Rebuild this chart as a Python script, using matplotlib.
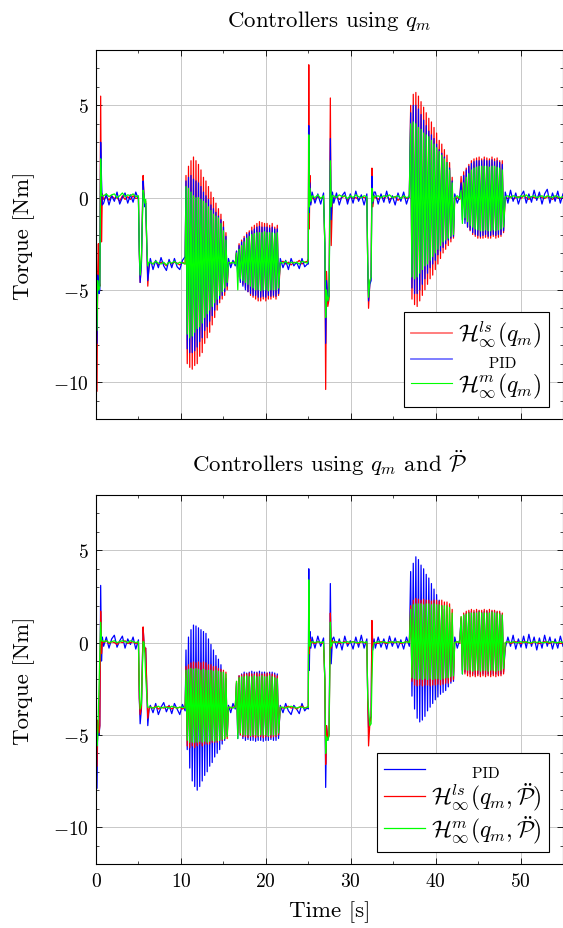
import numpy as np
import matplotlib
matplotlib.use("Agg")
import matplotlib.pyplot as plt
from matplotlib.lines import Line2D
from matplotlib.ticker import MultipleLocator

plt.rcParams['font.family'] = 'serif'
plt.rcParams['font.serif'] = ['cmr10', 'DejaVu Serif']
plt.rcParams['mathtext.fontset'] = 'cm'
plt.rcParams['axes.formatter.use_mathtext'] = True
plt.rcParams['font.size'] = 14

# sample times shared by all recordings: picked by hand around the jumps,
# spread evenly over the quiet and the oscillating stretches
time_parts = [
    [0.0, 0.12, 0.2, 0.28, 0.36, 0.45, 0.55, 0.65, 0.75],
    (0.9, 5.0, 14),
    [5.1, 5.2, 5.35, 5.55, 5.65, 5.75, 5.85, 6.0, 6.1, 6.25],
    (6.4, 10.5, 14),
    (10.6, 15.45, 34),
    (15.6, 16.4, 4),
    (16.55, 21.5, 34),
    (21.7, 24.9, 11),
    [25.0, 25.06, 25.12, 25.2, 25.3],
    (25.45, 26.8, 5),
    [26.95, 27.05, 27.15, 27.3, 27.45, 27.6, 27.7, 27.85],
    (28.0, 31.9, 13),
    [32.0, 32.1, 32.25, 32.4, 32.5, 32.6, 32.75],
    (32.9, 36.9, 13),
    (37.06, 42.1, 34),
    (42.25, 42.85, 3),
    (43.0, 48.0, 34),
    (48.2, 55.0, 23),
]

# ---- controllers using q_m (torque in Nm, one sub list per time part) ----
ls_top = [
    [-3.0, -10.5, -4.0, -2.5, -4.5, -4.8, 5.5, -2.4, 0.2],
    [-0.1, 0.05, -0.15, 0.1, -0.05, 0.0, -0.2, 0.1, -0.1, 0.05, -0.1, 0.1, -0.05, 0.0],
    [-2.9, -4.6, -3.5, 1.2, 0.2, -0.3, -0.2, -3.0, -4.8, -3.6],
    [-3.5, -3.6, -3.45, -3.65, -3.5, -3.55, -3.7, -3.45, -3.6, -3.5, -3.55, -3.65, -3.5, -3.6],
    [1.2, -9.0, 1.7, -9.2, 2.0, -9.3, 2.2, -9.1, 2.0, -9.0, 1.8, -8.6, 1.5, -8.4,
     1.1, -7.9, 0.9, -7.6, 0.6, -7.3, 0.3, -6.9, 0.0, -6.5, -0.3, -6.1, -0.6, -5.7,
     -0.9, -5.5, -1.3, -5.3, -1.9, -5.0],
    [-3.5, -3.6, -3.45, -3.55],
    [-2.9, -4.1, -2.5, -4.5, -2.3, -4.7, -2.1, -4.9, -1.9, -5.1, -1.8, -5.3, -1.6, -5.4,
     -1.5, -5.5, -1.4, -5.6, -1.3, -5.6, -1.35, -5.5, -1.4, -5.6, -1.4, -5.5, -1.5, -5.5,
     -1.4, -5.4, -1.6, -5.5, -1.5, -5.3],
    [-3.55, -3.45, -3.6, -3.5, -3.65, -3.5, -3.55, -3.4, -3.6, -3.5, -3.45],
    [-3.3, 7.2, -1.7, 1.2, -0.3],
    [0.0, -0.1, 0.05, -0.05, 0.0],
    [-2.5, -10.4, -4.0, -5.9, -5.5, 5.4, -2.6, 0.0],
    [-0.05, 0.05, -0.1, 0.0, 0.1, -0.15, 0.05, -0.05, 0.0, -0.1, 0.05, 0.0, -0.05],
    [-3.5, -6.0, -4.6, -4.3, 1.6, -0.5, 0.1],
    [0.0, -0.1, 0.05, -0.05, 0.1, -0.1, 0.0, 0.05, -0.15, 0.0, 0.05, -0.05, 0.0],
    [5.0, -5.5, 5.6, -5.8, 5.7, -5.9, 5.5, -5.6, 5.2, -5.3, 4.9, -5.0, 4.6, -4.7,
     4.3, -4.4, 4.1, -4.2, 3.8, -3.9, 3.5, -3.6, 3.1, -3.3, 2.9, -3.0, 2.6, -2.8,
     2.3, -2.6, 1.9, -2.4, 1.1, -2.2],
    [-0.1, 0.0, -0.1],
    [1.15, -0.65, 1.4, -1.2, 1.6, -1.6, 1.8, -1.8, 2.0, -2.0, 2.1, -2.1, 2.15, -2.2,
     2.2, -2.2, 2.1, -2.2, 2.2, -2.15, 2.15, -2.2, 2.1, -2.2, 2.2, -2.1, 2.1, -2.2,
     2.15, -2.15, 2.0, -2.1, 2.0, -1.9],
    [0.0, -0.05, 0.05, -0.1, 0.0, 0.05, -0.05, 0.1, 0.0, -0.1, 0.05, 0.0, -0.05, 0.1,
     0.0, -0.05, 0.05, 0.0, -0.1, 0.05, 0.0, -0.05, 0.0],
]

pid_top = [
    [-3.0, -7.9, -4.2, -4.5, -5.2, -5.0, 3.0, 1.0, -0.4],
    [-0.3, 0.2, -0.4, 0.1, -0.2, 0.3, -0.35, 0.0, 0.25, -0.3, 0.15, -0.25, 0.3, -0.1],
    [-3.0, -4.6, -3.6, 0.9, 0.1, -0.5, -0.3, -2.9, -4.5, -3.8],
    [-3.3, -3.9, -3.4, -3.8, -3.25, -3.7, -3.95, -3.35, -3.8, -3.3, -3.75, -3.9, -3.4, -3.2],
    [0.9, -8.2, 1.1, -8.4, 1.2, -8.4, 1.0, -8.3, 0.9, -8.1, 0.8, -7.8, 0.6, -7.6,
     0.3, -7.2, 0.1, -7.0, -0.1, -6.7, -0.4, -6.4, -0.6, -6.1, -0.8, -5.8, -1.0, -5.5,
     -1.2, -5.3, -1.6, -5.1, -2.1, -4.8],
    [-3.3, -3.8, -3.4, -3.7],
    [-2.9, -4.3, -2.6, -4.6, -2.4, -4.8, -2.2, -5.0, -2.0, -5.1, -1.9, -5.2, -1.8, -5.3,
     -1.7, -5.3, -1.6, -5.4, -1.55, -5.4, -1.6, -5.35, -1.6, -5.4, -1.6, -5.3, -1.65, -5.35,
     -1.6, -5.3, -1.7, -5.35, -1.7, -5.2],
    [-3.3, -3.8, -3.4, -3.9, -3.3, -3.7, -3.5, -3.85, -3.3, -3.75, -3.6],
    [-3.6, 3.9, -0.8, 0.8, -0.4],
    [0.3, -0.3, 0.2, -0.35, 0.25],
    [-2.5, -7.9, -4.5, -5.6, -5.3, 3.2, -1.2, 0.3],
    [-0.3, 0.25, -0.4, 0.1, 0.3, -0.35, 0.2, -0.3, 0.35, -0.2, 0.15, -0.4, 0.2],
    [-3.5, -5.6, -4.7, -4.5, 1.15, -0.3, 0.3],
    [0.3, -0.35, 0.2, -0.25, 0.35, -0.3, 0.1, -0.4, 0.25, -0.2, 0.3, -0.35, 0.15],
    [4.6, -4.9, 5.0, -5.2, 5.0, -5.2, 4.8, -5.0, 4.5, -4.7, 4.2, -4.4, 3.9, -4.1,
     3.6, -3.8, 3.4, -3.6, 3.2, -3.4, 2.9, -3.1, 2.6, -2.9, 2.4, -2.7, 2.2, -2.5,
     1.9, -2.3, 1.6, -2.2, 0.9, -2.1],
    [0.2, -0.3, 0.1],
    [0.8, -1.2, 1.2, -1.4, 1.5, -1.6, 1.7, -1.75, 1.85, -1.9, 1.95, -2.0, 2.0, -2.05,
     2.0, -2.1, 2.0, -2.05, 2.05, -2.0, 2.0, -2.1, 2.0, -2.05, 2.05, -2.0, 1.95, -2.05,
     2.0, -2.0, 1.9, -2.0, 1.8, -1.8],
    [0.3, -0.3, 0.4, -0.2, 0.25, -0.35, 0.1, 0.35, -0.3, 0.2, -0.25, 0.4, -0.15, 0.3,
     -0.35, 0.2, 0.45, -0.3, 0.25, -0.2, 0.35, -0.3, 0.2],
]

m_top = [
    [-3.0, -7.2, -4.5, -5.0, -5.0, -4.8, 2.1, 0.1, 0.1],
    [0.1, 0.2, 0.05, 0.15, 0.2, 0.0, 0.1, 0.25, 0.05, 0.15, 0.1, 0.2, 0.05, 0.1],
    [-2.9, -4.2, -3.3, 0.4, 0.1, -0.3, -0.1, -2.8, -3.7, -3.5],
    [-3.5, -3.6, -3.45, -3.55, -3.6, -3.5, -3.65, -3.5, -3.55, -3.45, -3.6, -3.5, -3.55, -3.6],
    [0.6, -7.4, 0.5, -7.6, 0.3, -7.5, 0.1, -7.3, 0.0, -7.1, 0.0, -7.0, -0.1, -6.8,
     -0.2, -6.5, -0.3, -6.3, -0.5, -6.1, -0.7, -5.9, -0.9, -5.7, -1.0, -5.5, -1.1, -5.3,
     -1.4, -5.1, -1.8, -4.9, -2.3, -4.6],
    [-3.5, -3.55, -3.5, -3.6],
    [-3.0, -5.0, -2.8, -4.4, -2.6, -4.5, -2.4, -4.6, -2.2, -4.7, -2.1, -4.8, -2.0, -4.9,
     -1.95, -5.0, -1.9, -5.0, -1.9, -5.05, -1.9, -5.0, -1.85, -5.0, -1.9, -5.05, -1.9, -5.0,
     -1.9, -5.0, -1.95, -5.0, -1.9, -4.9],
    [-3.5, -3.55, -3.45, -3.6, -3.5, -3.55, -3.5, -3.6, -3.45, -3.5, -3.55],
    [-3.4, 3.4, -0.5, 0.5, -0.2],
    [0.1, 0.0, 0.15, -0.05, 0.1],
    [-2.5, -6.5, -5.0, -5.6, -5.3, 2.0, -0.5, 0.1],
    [0.1, 0.0, 0.15, 0.05, 0.1, -0.05, 0.1, 0.0, 0.15, 0.05, 0.0, 0.1, 0.05],
    [-3.5, -5.4, -4.5, -4.3, 0.5, -0.2, 0.1],
    [0.05, 0.1, 0.0, 0.1, 0.05, 0.15, 0.0, 0.05, 0.1, -0.05, 0.1, 0.0, 0.05],
    [4.0, -4.3, 4.1, -4.4, 4.0, -4.3, 3.8, -4.1, 3.7, -3.9, 3.5, -3.7, 3.4, -3.6,
     3.3, -3.4, 3.1, -3.2, 2.9, -3.0, 2.7, -2.8, 2.5, -2.6, 2.3, -2.4, 2.1, -2.3,
     1.9, -2.2, 1.5, -2.1, 0.8, -2.0],
    [0.0, 0.1, -0.05],
    [0.4, -1.4, 0.8, -1.1, 1.1, -1.3, 1.3, -1.5, 1.5, -1.6, 1.6, -1.7, 1.65, -1.75,
     1.7, -1.8, 1.7, -1.8, 1.7, -1.75, 1.7, -1.8, 1.65, -1.8, 1.7, -1.75, 1.7, -1.8,
     1.65, -1.75, 1.6, -1.7, 1.5, -1.6],
    [0.05, 0.1, 0.0, 0.1, 0.05, 0.0, 0.1, 0.05, 0.15, 0.0, 0.05, 0.1, 0.0, 0.05,
     0.1, 0.0, 0.1, 0.05, 0.0, 0.1, 0.05, 0.0, 0.05],
]

# ---- controllers using q_m and the acceleration estimate ----
pid_bot = [
    [-4.0, -7.9, -4.5, -4.8, -5.0, -4.5, 3.1, -1.0, 0.3],
    [-0.2, 0.3, -0.3, 0.2, 0.4, -0.25, 0.1, 0.35, -0.3, 0.2, -0.1, 0.3, -0.35, 0.15],
    [-3.0, -4.4, -3.6, 0.8, 0.0, -0.4, -0.3, -2.8, -4.5, -3.6],
    [-3.4, -3.8, -3.3, -3.9, -3.5, -3.25, -3.75, -3.4, -3.85, -3.3, -3.6, -3.9, -3.35, -3.7],
    [-0.4, -5.8, 0.3, -6.8, 0.7, -7.5, 0.95, -7.8, 0.9, -8.0, 0.8, -7.8, 0.7, -7.5,
     0.6, -7.2, 0.5, -7.0, 0.2, -6.7, -0.1, -6.5, -0.4, -6.2, -0.7, -6.0, -0.9, -5.8,
     -1.2, -5.5, -1.6, -5.3, -1.95, -5.0],
    [-3.4, -3.8, -3.3, -3.6],
    [-2.2, -5.2, -1.8, -5.0, -1.7, -5.2, -1.6, -5.3, -1.65, -5.25, -1.6, -5.3, -1.55, -5.3,
     -1.6, -5.35, -1.6, -5.3, -1.55, -5.3, -1.6, -5.35, -1.6, -5.3, -1.65, -5.3, -1.6, -5.25,
     -1.6, -5.3, -1.65, -5.3, -1.7, -5.2],
    [-3.4, -3.8, -3.3, -3.7, -3.9, -3.4, -3.6, -3.85, -3.3, -3.7, -3.5],
    [-3.6, 4.0, -1.5, 0.6, -0.3],
    [0.3, -0.3, 0.35, -0.2, 0.25],
    [-2.0, -7.85, -4.5, -5.3, -5.0, 3.2, -1.15, 0.2],
    [0.3, -0.3, 0.2, -0.4, 0.35, -0.2, 0.1, -0.35, 0.3, -0.25, 0.4, -0.3, 0.2],
    [-3.0, -4.6, -4.2, -4.0, 1.1, -0.4, 0.2],
    [-0.3, 0.3, -0.25, 0.2, -0.35, 0.35, -0.2, 0.25, -0.3, 0.15, -0.35, 0.3, -0.2],
    [3.85, -2.9, 4.3, -3.6, 4.65, -4.1, 4.5, -4.3, 4.2, -4.2, 4.0, -4.0, 3.7, -3.7,
     3.5, -3.5, 3.2, -3.3, 2.9, -3.1, 2.6, -2.95, 2.3, -2.8, 2.0, -2.7, 1.8, -2.6,
     1.5, -2.4, 1.1, -2.2, 0.6, -2.1],
    [0.3, -0.3, 0.2],
    [1.3, -1.7, 1.5, -1.6, 1.6, -1.65, 1.65, -1.7, 1.7, -1.7, 1.65, -1.75, 1.7, -1.7,
     1.7, -1.75, 1.65, -1.7, 1.7, -1.75, 1.7, -1.7, 1.65, -1.75, 1.7, -1.7, 1.7, -1.7,
     1.65, -1.75, 1.6, -1.7, 1.5, -1.6],
    [-0.3, 0.3, -0.2, 0.4, -0.35, 0.2, -0.25, 0.35, -0.3, 0.45, -0.2, 0.3, -0.4, 0.25,
     -0.3, 0.4, -0.2, 0.3, -0.35, 0.2, -0.3, 0.35, -0.2],
]

ls_bot = [
    [-4.0, -6.7, -4.2, -4.6, -4.9, -4.5, 1.7, -0.6, 0.1],
    [0.0, 0.1, -0.05, 0.05, 0.0, -0.1, 0.05, 0.0, 0.1, -0.05, 0.0, 0.05, -0.05, 0.0],
    [-3.0, -3.9, -3.5, 0.85, 0.0, -0.3, -0.3, -2.6, -4.1, -3.6],
    [-3.5, -3.55, -3.45, -3.6, -3.5, -3.55, -3.5, -3.45, -3.6, -3.5, -3.55, -3.5, -3.6, -3.5],
    [-1.3, -5.6, -1.2, -5.7, -1.1, -5.6, -1.05, -5.7, -1.1, -5.6, -1.05, -5.5, -1.1, -5.6,
     -1.05, -5.5, -1.1, -5.5, -1.2, -5.5, -1.2, -5.4, -1.3, -5.4, -1.3, -5.4, -1.4, -5.3,
     -1.45, -5.3, -1.5, -5.2, -1.6, -5.2],
    [-3.5, -3.55, -3.5, -3.5],
    [-2.1, -4.9, -1.8, -5.0, -1.75, -5.1, -1.7, -5.1, -1.7, -5.15, -1.65, -5.1, -1.7, -5.1,
     -1.7, -5.15, -1.65, -5.1, -1.7, -5.1, -1.7, -5.15, -1.7, -5.1, -1.65, -5.1, -1.7, -5.15,
     -1.7, -5.1, -1.75, -5.1, -1.8, -5.0],
    [-3.5, -3.55, -3.5, -3.45, -3.55, -3.5, -3.6, -3.5, -3.45, -3.55, -3.5],
    [-3.5, 1.7, -0.6, 0.2, 0.0],
    [0.0, -0.05, 0.05, 0.0, -0.05],
    [-2.0, -6.6, -4.5, -5.2, -5.0, 1.6, -0.3, 0.1],
    [0.0, 0.05, -0.05, 0.0, 0.05, -0.05, 0.0, 0.05, 0.0, -0.05, 0.05, 0.0, -0.05],
    [-3.0, -5.6, -4.4, -4.0, 1.2, -0.2, 0.0],
    [0.0, -0.05, 0.05, 0.0, -0.05, 0.05, 0.0, 0.0, 0.05, -0.05, 0.0, 0.05, 0.0],
    [2.0, -2.1, 2.3, -2.3, 2.4, -2.35, 2.35, -2.3, 2.3, -2.35, 2.35, -2.3, 2.3, -2.3,
     2.3, -2.35, 2.25, -2.3, 2.3, -2.3, 2.3, -2.25, 2.25, -2.3, 2.3, -2.25, 2.2, -2.2,
     2.2, -2.2, 2.1, -2.1, 1.8, -2.0],
    [0.0, 0.05, -0.05],
    [1.4, -1.5, 1.6, -1.7, 1.7, -1.8, 1.75, -1.85, 1.8, -1.8, 1.75, -1.85, 1.8, -1.8,
     1.75, -1.85, 1.75, -1.8, 1.8, -1.85, 1.75, -1.8, 1.8, -1.85, 1.75, -1.8, 1.75, -1.85,
     1.7, -1.8, 1.7, -1.8, 1.6, -1.7],
    [0.0, 0.05, -0.05, 0.0, 0.05, 0.0, -0.05, 0.05, 0.0, 0.0, -0.05, 0.05, 0.0, -0.05,
     0.0, 0.05, 0.0, -0.05, 0.05, 0.0, 0.0, -0.05, 0.0],
]

m_bot = [
    [-4.0, -5.6, -5.2, -3.8, -2.4, -1.0, 1.1, 0.1, 0.1],
    [0.05, 0.1, 0.0, 0.05, 0.1, 0.0, 0.05, 0.1, 0.05, 0.0, 0.1, 0.05, 0.0, 0.05],
    [-2.3, -3.6, -3.3, 0.05, 0.0, -0.6, -1.8, -3.0, -3.5, -3.5],
    [-3.5, -3.55, -3.5, -3.45, -3.55, -3.5, -3.5, -3.55, -3.45, -3.5, -3.55, -3.5, -3.5, -3.55],
    [-1.5, -5.3, -1.45, -5.4, -1.4, -5.4, -1.45, -5.4, -1.4, -5.4, -1.45, -5.35, -1.5, -5.4,
     -1.45, -5.35, -1.5, -5.4, -1.5, -5.35, -1.5, -5.3, -1.55, -5.35, -1.5, -5.3, -1.55, -5.3,
     -1.6, -5.25, -1.6, -5.2, -1.7, -5.1],
    [-3.5, -3.5, -3.55, -3.5],
    [-2.1, -5.2, -1.9, -4.9, -1.85, -5.0, -1.85, -5.0, -1.8, -5.0, -1.85, -5.05, -1.85, -5.0,
     -1.8, -5.0, -1.85, -5.05, -1.85, -5.0, -1.8, -5.0, -1.85, -5.0, -1.85, -5.05, -1.8, -5.0,
     -1.85, -5.0, -1.9, -5.0, -1.95, -4.9],
    [-3.5, -3.5, -3.55, -3.5, -3.45, -3.5, -3.55, -3.5, -3.5, -3.55, -3.5],
    [-3.5, 3.4, 0.3, -0.2, 0.0],
    [0.05, 0.0, 0.05, 0.0, 0.05],
    [-2.0, -6.0, -5.1, -5.3, -5.0, 1.1, -0.2, 0.0],
    [0.05, 0.0, 0.05, 0.0, 0.0, 0.05, 0.0, 0.05, 0.0, 0.0, 0.05, 0.0, 0.05],
    [-3.0, -3.6, -4.5, -4.4, -2.0, -0.3, 0.0],
    [0.0, 0.05, 0.0, 0.05, 0.0, 0.0, 0.05, 0.0, 0.05, 0.0, 0.0, 0.05, 0.0],
    [1.8, -1.9, 2.05, -1.95, 2.1, -2.0, 2.1, -1.95, 2.1, -2.0, 2.05, -1.95, 2.1, -2.0,
     2.1, -1.95, 2.05, -2.0, 2.1, -1.95, 2.05, -1.95, 2.05, -2.0, 2.0, -1.95, 2.0, -1.9,
     2.0, -1.9, 1.9, -1.85, 1.6, -1.8],
    [0.0, 0.05, 0.0],
    [1.4, -1.7, 1.5, -1.45, 1.55, -1.5, 1.6, -1.5, 1.6, -1.55, 1.6, -1.5, 1.6, -1.5,
     1.65, -1.55, 1.6, -1.5, 1.6, -1.5, 1.6, -1.55, 1.6, -1.5, 1.65, -1.5, 1.6, -1.55,
     1.6, -1.5, 1.55, -1.5, 1.5, -1.4],
    [0.0, 0.05, 0.0, 0.05, 0.0, 0.0, 0.05, 0.0, 0.05, 0.0, 0.0, 0.05, 0.0, 0.05,
     0.0, 0.0, 0.05, 0.0, 0.05, 0.0, 0.0, 0.05, 0.0],
]


def build_time(parts):
    out = []
    for p in parts:
        if isinstance(p, tuple):
            out.extend(np.linspace(p[0], p[1], p[2]))
        else:
            out.extend(p)
    return np.array(out)


def flat(series):
    for p, s in zip(time_parts, series):
        n = p[2] if isinstance(p, tuple) else len(p)
        assert n == len(s), (p, len(s))
    return np.array(sum(series, []))


t = build_time(time_parts)

RED = '#ff0000'
BLUE = '#0000ff'
GREEN = '#00ff00'
LW = 0.9
BIG = 16.5


def style_axes(ax, title):
    ax.set_xlim(0, 55)
    ax.set_ylim(-12, 8)
    ax.set_yticks([-10, -5, 0, 5])
    ax.set_xticks([0, 10, 20, 30, 40, 50])
    ax.xaxis.set_minor_locator(MultipleLocator(5))
    ax.yaxis.set_minor_locator(MultipleLocator(1))
    ax.tick_params(which='both', direction='in', top=True, right=True, labelsize=14)
    ax.tick_params(which='major', length=4.3, width=0.6)
    ax.tick_params(which='minor', length=2.5, width=0.5)
    ax.tick_params(axis='x', pad=6)
    ax.tick_params(axis='y', pad=5)
    ax.grid(True, which='major', color='#c8c8c8', lw=0.7)
    ax.set_axisbelow(True)
    ax.set_ylabel('Torque [Nm]', fontsize=BIG, labelpad=13)
    ax.set_title(title, fontsize=BIG, pad=17)
    for s in ax.spines.values():
        s.set_linewidth(0.8)


def add_legend(ax, handles, labels, pid_idx):
    leg = ax.legend(handles, labels, loc='lower right', bbox_to_anchor=(0.97, 0.033),
                    fancybox=False, edgecolor='black', framealpha=1, fontsize=17,
                    handlelength=1.75, handletextpad=0.25, labelspacing=0.02,
                    borderpad=0.3, borderaxespad=0)
    leg.get_frame().set_linewidth(0.8)
    leg.get_texts()[pid_idx].set_fontsize(11)
    return leg


fig = plt.figure(figsize=(5.63, 9.29), dpi=100)
ax1 = fig.add_axes([0.1705, 0.5479, 0.8295, 0.3972])
ax2 = fig.add_axes([0.1705, 0.0689, 0.8295, 0.3972])

# top: red first, then blue, green on top
ax1.plot(t, flat(ls_top), color=RED, lw=LW)
ax1.plot(t, flat(pid_top), color=BLUE, lw=LW)
ax1.plot(t, flat(m_top), color=GREEN, lw=LW)
style_axes(ax1, r'Controllers using $q_m$')
ax1.tick_params(labelbottom=False)
h_top = [Line2D([], [], color=RED, alpha=0.55, lw=1.3),
         Line2D([], [], color=BLUE, alpha=0.55, lw=1.3),
         Line2D([], [], color=GREEN, lw=0.8)]
lab_top = [r'$\mathcal{H}_\infty^{ls}(q_m)$', '      PID', r'$\mathcal{H}_\infty^{m}(q_m)$']
add_legend(ax1, h_top, lab_top, 1)

# bottom: blue first, then red, green on top
ax2.plot(t, flat(pid_bot), color=BLUE, lw=LW)
ax2.plot(t, flat(ls_bot), color=RED, lw=LW)
ax2.plot(t, flat(m_bot), color=GREEN, lw=LW)
style_axes(ax2, r'Controllers using $q_m$ and $\ddot{\mathcal{P}}$')
ax2.set_xlabel('Time [s]', fontsize=BIG, labelpad=7)
h_bot = [Line2D([], [], color=BLUE, lw=0.9),
         Line2D([], [], color=RED, lw=0.9),
         Line2D([], [], color=GREEN, lw=0.9)]
lab_bot = ['        PID', r'$\mathcal{H}_\infty^{ls}(q_m,\ddot{\mathcal{P}})$',
           r'$\mathcal{H}_\infty^{m}(q_m,\ddot{\mathcal{P}})$']
add_legend(ax2, h_bot, lab_bot, 0)

fig.savefig('out.png', dpi=100)
